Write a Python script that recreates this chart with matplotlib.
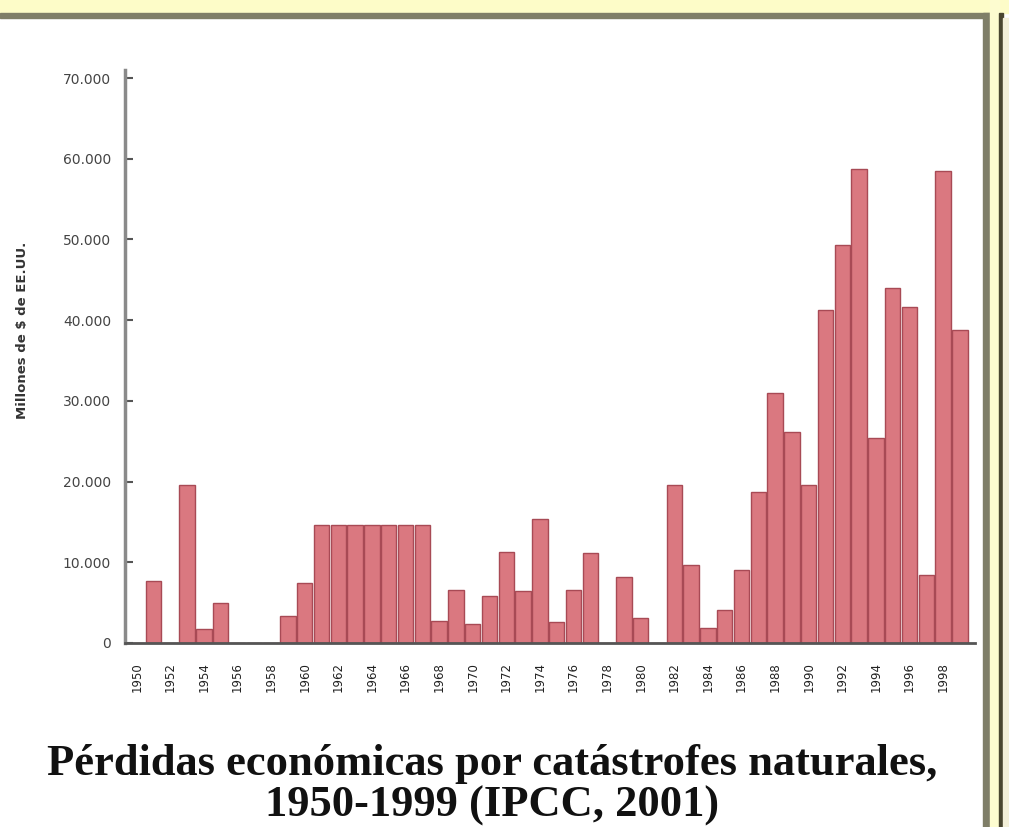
import matplotlib
matplotlib.use('Agg')
import matplotlib.pyplot as plt
from matplotlib.patches import Rectangle

# Pérdidas económicas por catástrofes naturales (millones de $), 1950-1999
YEARS = list(range(1950, 2000))
LOSSES = [
    0, 7700, 0, 19600, 1700, 4900, 0, 0, 0, 3400,
    7400, 14600, 14600, 14600, 14600, 14600, 14600, 14600, 2700, 6600,
    2400, 5800, 11300, 6500, 15400, 2600, 6600, 11100, 0, 8200,
    3100, 0, 19600, 9700, 1800, 4100, 9000, 18700, 31000, 26200,
    19600, 41300, 49300, 58700, 25400, 44000, 41600, 8400, 58500, 38800,
]
YTICKS = [0, 10000, 20000, 30000, 40000, 50000, 60000, 70000]
YTICK_LABELS = ['0', '10.000', '20.000', '30.000', '40.000', '50.000', '60.000', '70.000']
XTICKS = list(range(1950, 1999, 2))

W, H = 1009, 827
fig = plt.figure(figsize=(W / 100, H / 100), dpi=100)
fig.patch.set_facecolor('white')


def px_rect(x0, y0, x1, y1, color):
    # rectangle in pixel coords (origin top-left)
    fig.patches.append(Rectangle((x0 / W, 1 - y1 / H), (x1 - x0) / W, (y1 - y0) / H,
                                 transform=fig.transFigure, color=color, zorder=0))


# window frame
px_rect(0, 0, W, 13, '#fdfcc8')
px_rect(0, 13, 990, 18, '#7f7e68')
px_rect(983, 13, 990, H, '#7f7e68')
px_rect(990, 0, 999, H, '#fdfcd0')
px_rect(999, 13, 1003, H, '#4a4630')
px_rect(1003, 18, W, H, '#f3efd8')

ax = fig.add_axes([125 / W, 1 - 643 / H, (975 - 125) / W, (643 - 70) / H])
ax.set_facecolor('none')
ax.bar(YEARS, LOSSES, width=0.92, color='#da7880', edgecolor='#a84a55', linewidth=1.0)

ax.set_xlim(1949.3, 1999.9)
ax.set_ylim(0, 71000)

ax.spines['top'].set_visible(False)
ax.spines['right'].set_visible(False)
ax.spines['left'].set_color('#8a8a8a')
ax.spines['left'].set_linewidth(2.5)
ax.spines['bottom'].set_color('#555555')
ax.spines['bottom'].set_linewidth(2)

ax.set_yticks(YTICKS)
ax.set_yticklabels(YTICK_LABELS)
ax.tick_params(axis='y', direction='in', length=6, width=1.5, color='#555555',
               labelsize=10, labelcolor='#444444', pad=10)
ax.set_xticks(XTICKS)
ax.set_xticklabels([str(y) for y in XTICKS], rotation=90)
ax.tick_params(axis='x', length=0, labelsize=8.5, labelcolor='#222222', pad=14)

fig.text(23 / W, 1 - 330 / H, 'Millones de $ de EE.UU.', rotation=90,
         ha='center', va='center', fontsize=9.5, fontweight='bold', color='#333333')

fig.text(492 / W, 1 - 764 / H, 'Pérdidas económicas por catástrofes naturales,',
         ha='center', va='center', fontsize=32, fontweight='bold',
         family='Liberation Serif', color='#111111')
fig.text(492 / W, 1 - 806 / H, '1950-1999 (IPCC, 2001)',
         ha='center', va='center', fontsize=32, fontweight='bold',
         family='Liberation Serif', color='#111111')

fig.savefig('out.png', dpi=100)
